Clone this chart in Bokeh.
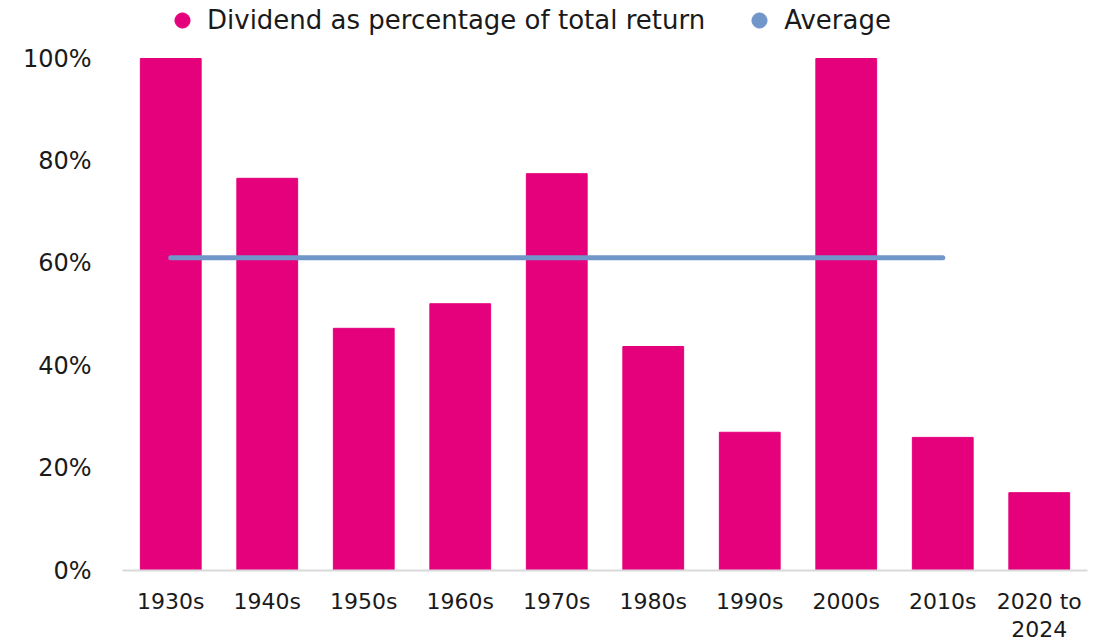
from bokeh.plotting import figure
from bokeh.models import Range1d, FixedTicker, NumeralTickFormatter, Legend, LegendItem
from bokeh.embed import file_html
from bokeh.resources import INLINE

decades = ["1930s", "1940s", "1950s", "1960s", "1970s", "1980s", "1990s", "2000s", "2010s", "2020 to\n2024"]
dividend_share = [1.00, 0.766, 0.473, 0.521, 0.775, 0.4375, 0.27, 1.00, 0.26, 0.152]
average_x = ["1930s", "2010s"]
average_y = [0.611, 0.611]
y_ticks = [0, 0.2, 0.4, 0.6, 0.8, 1.0]
legend_labels = ["Dividend as percentage of total return", "Average"]

BAR = "#E5007C"
AVG = "#7196C9"
FONT = "DejaVu Sans"
TXT = "#1a1a1a"

# frame extends up to the legend area; 100% sits 56px below the frame top
p = figure(x_range=decades, y_range=Range1d(0, 1.109375),
           frame_width=965, frame_height=568,
           output_backend="svg", toolbar_location=None,
           min_border_left=122, min_border_right=14, min_border_top=2, min_border_bottom=0)
p.outline_line_color = None
p.grid.visible = False

bars = p.vbar(x=decades, top=dividend_share, width=0.63, color=BAR)
avg = p.line(x=average_x, y=average_y, line_color=AVG, line_width=5, line_cap="round")

# legend markers (circles); the single NaN point is never drawn on the plot
nan = float("nan")
leg_bar = p.scatter(x=[decades[0]], y=[nan], marker="circle", size=15, color=BAR)
leg_avg = p.scatter(x=[decades[0]], y=[nan], marker="circle", size=15, color=AVG)

legend = Legend(items=[LegendItem(label=legend_labels[0], renderers=[leg_bar]),
                       LegendItem(label=legend_labels[1], renderers=[leg_avg])],
                orientation="horizontal", location=(41, 531),
                label_text_font=FONT, label_text_font_size="26px", label_text_color=TXT,
                glyph_width=38, glyph_height=38, label_standoff=6, spacing=35,
                padding=0, margin=0, border_line_alpha=0, background_fill_alpha=0)
p.add_layout(legend, "center")

p.yaxis.ticker = FixedTicker(ticks=y_ticks)
p.yaxis.formatter = NumeralTickFormatter(format="0%")
p.yaxis.axis_line_color = None
p.yaxis.major_tick_line_color = None
p.yaxis.minor_tick_line_color = None
p.yaxis.major_label_standoff = 25
p.yaxis.major_label_text_font = FONT
p.yaxis.major_label_text_font_size = "24px"
p.yaxis.major_label_text_color = TXT

p.xaxis.axis_line_color = "#d9d9d9"
p.xaxis.axis_line_width = 2
p.xaxis.major_tick_line_color = None
p.xaxis.minor_tick_line_color = None
p.xaxis.major_label_standoff = 12
p.xaxis.major_label_text_line_height = 1.15
p.xaxis.major_label_text_font = FONT
p.xaxis.major_label_text_font_size = "22px"
p.xaxis.major_label_text_color = TXT

open("out.html", "w").write(file_html(p, INLINE))
